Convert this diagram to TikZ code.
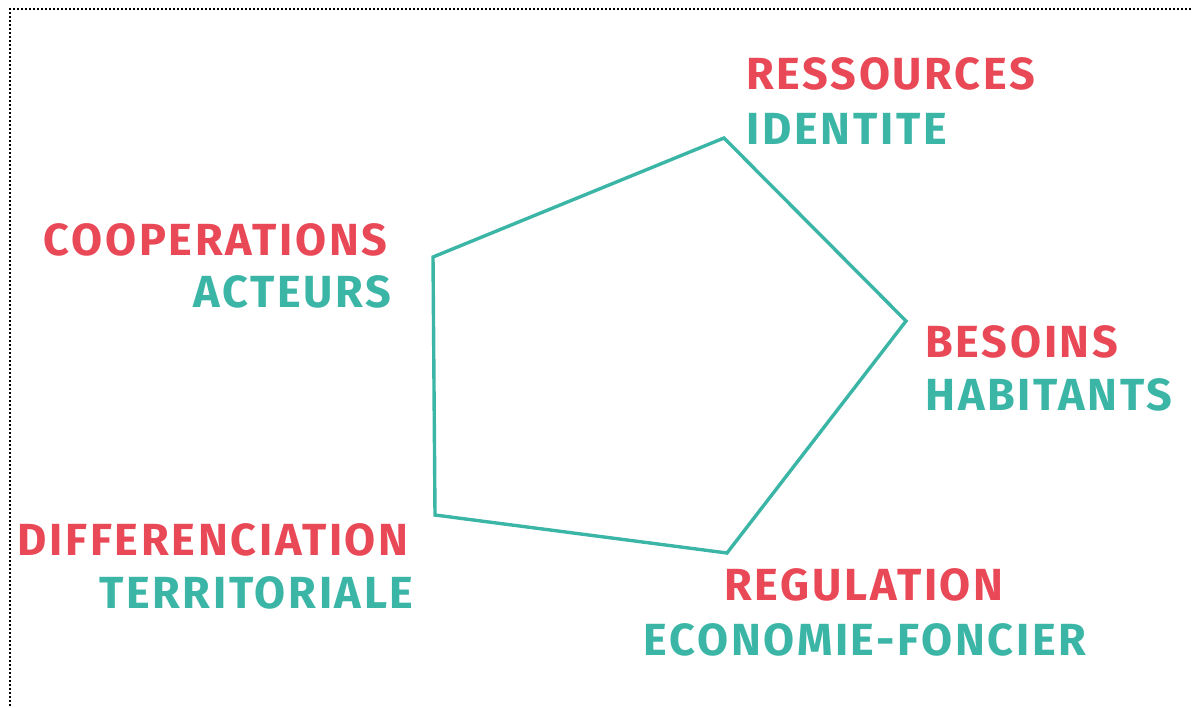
\documentclass[tikz,border=0pt]{standalone}
\usepackage{fontspec}
\setmainfont{Fira Sans}[LetterSpace=6]
\usepackage{tikz}
\usetikzlibrary{positioning}
\usetikzlibrary{calc}

\definecolor{labelred}{RGB}{233,72,86}
\definecolor{labelteal}{RGB}{59,181,166}

\begin{document}
\begin{tikzpicture}[
                x=0.5pt,
                y=-0.5pt,
                every node/.style={
                        inner sep=0pt,
                        font=\fontsize{22.5}{27}\selectfont\bfseries
                    },
                redtext/.style={
                        text=labelred
                    },
                tealtext/.style={
                        text=labelteal
                    }
            ]
            \useasboundingbox (0,0) rectangle (1192,706);

            % Frame, dotted on two sides
            \draw[line width=1pt, dash pattern=on 1pt off 1pt] (10,706) -- (10,9) -- (1192,9);

            % Corners of the pentagon
            \coordinate (res) at (724,138);
            \coordinate (bes) at (906,321);
            \coordinate (reg) at (727,553);
            \coordinate (dif) at (435,515);
            \coordinate (coo) at (433,257);

            \draw[labelteal, line width=1.7pt, line join=miter]
                (res) -- (bes) -- (reg) -- (dif) -- (coo) -- cycle;

            % Labels at the corners
            \node[redtext, anchor=base west] (Res) at (746,90) {RESSOURCES};
            \node[tealtext, anchor=base west] (Ide) at (746,144) {IDENTITE};

            \node[redtext, anchor=base west] (Bes) at (925,357) {BESOINS};
            \node[tealtext, anchor=base west] (Hab) at (925,410) {HABITANTS};

            \node[redtext, anchor=base] (Reg) at (864,600) {REGULATION};
            \node[tealtext, anchor=base] (Eco) at (865,655) {ECONOMIE-FONCIER};

            \node[redtext, anchor=base east] (Dif) at (409,555) {DIFFERENCIATION};
            \node[tealtext, anchor=base east] (Ter) at (414,608) {TERRITORIALE};

            \node[redtext, anchor=base east] (Coo) at (388,255) {COOPERATIONS};
            \node[tealtext, anchor=base east] (Act) at (392,307) {ACTEURS};

        \end{tikzpicture}
\end{document}
